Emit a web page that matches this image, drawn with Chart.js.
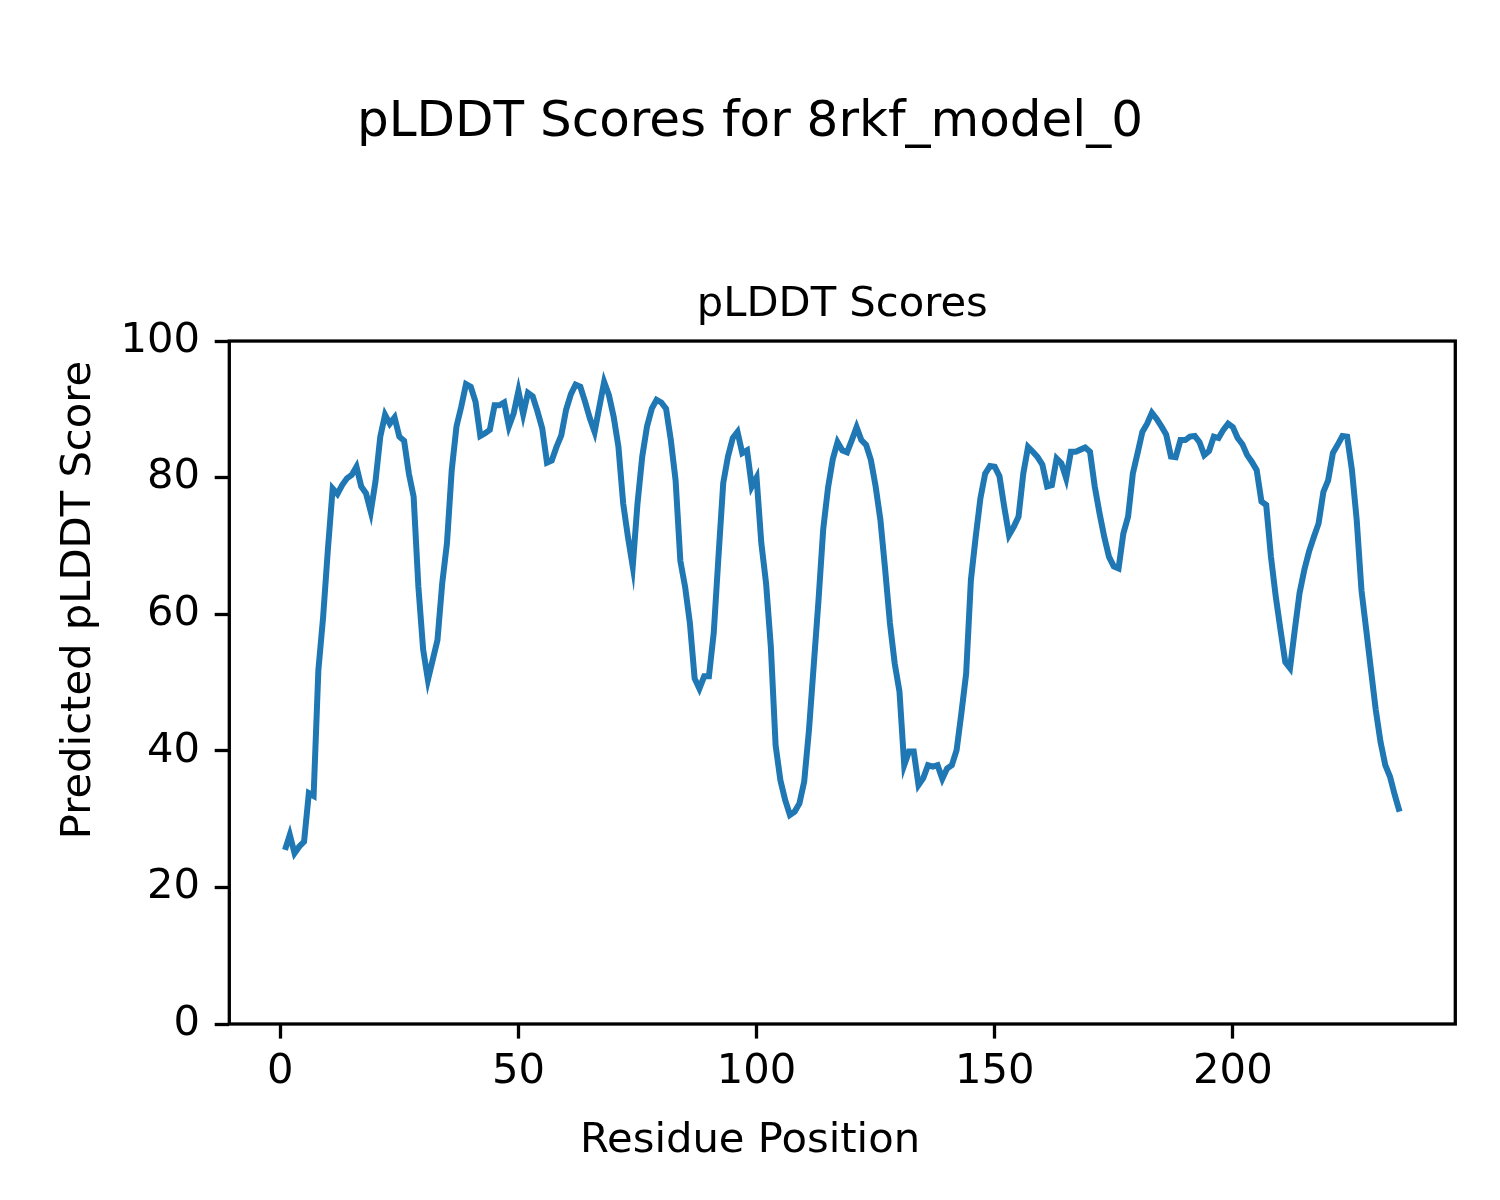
<!DOCTYPE html>
<html>
<head>
<meta charset="utf-8">
<title>pLDDT Scores for 8rkf_model_0</title>
<script src="https://cdn.jsdelivr.net/npm/chart.js@4.4.1/dist/chart.umd.min.js"></script>
<style>
    body { margin: 0; background: #ffffff; }
    #plddtChart { display: block; }
</style>
</head>
<body>
<canvas id="plddtChart" width="1500" height="1200"></canvas>
<script>
// pLDDT per residue (residues 1..235)
const scores = [
    25.5, 27.7, 25.0, 26.0, 26.7, 33.8, 33.4, 51.8, 59.6, 69.5,
    78.4, 77.6, 78.9, 79.9, 80.4, 81.6, 78.7, 77.7, 75.0, 79.5,
    86.0, 89.2, 87.9, 88.8, 86.0, 85.4, 80.6, 77.2, 64.0, 54.8,
    50.4, 53.3, 56.2, 64.5, 70.4, 81.1, 87.5, 90.4, 93.7, 93.3,
    91.1, 86.1, 86.5, 87.0, 90.6, 90.6, 91.0, 87.5, 89.4, 92.7,
    89.3, 92.4, 91.9, 89.7, 87.2, 82.2, 82.5, 84.5, 86.2, 89.9,
    92.2, 93.6, 93.3, 91.1, 88.7, 86.7, 90.4, 94.0, 92.1, 88.9,
    84.5, 76.2, 71.3, 67.0, 76.2, 83.1, 87.5, 90.1, 91.4, 91.0,
    90.1, 85.5, 79.6, 67.8, 64.0, 58.7, 50.6, 49.1, 50.9, 50.9,
    57.2, 68.4, 79.2, 83.1, 85.8, 86.7, 83.6, 84.0, 78.7, 80.0,
    70.4, 64.5, 55.2, 40.8, 35.7, 32.8, 30.6, 31.1, 32.3, 35.5,
    43.0, 52.5, 62.0, 72.5, 78.5, 82.7, 85.2, 84.0, 83.7, 85.5,
    87.4, 85.5, 84.8, 82.6, 78.7, 73.8, 66.5, 58.7, 52.8, 48.7,
    37.9, 39.9, 39.9, 35.0, 36.0, 37.9, 37.7, 37.9, 35.9, 37.4,
    37.9, 40.1, 45.5, 51.3, 65.0, 71.3, 77.0, 80.6, 81.7, 81.6,
    80.2, 75.7, 71.6, 72.8, 74.3, 80.6, 84.5, 83.8, 83.0, 81.9,
    78.7, 78.9, 82.8, 82.1, 79.9, 83.8, 83.8, 84.1, 84.4, 83.8,
    78.7, 74.8, 71.3, 68.4, 67.0, 66.7, 71.8, 74.3, 80.6, 83.6,
    86.7, 87.9, 89.5, 88.6, 87.5, 86.3, 83.1, 83.0, 85.5, 85.5,
    86.0, 86.1, 85.2, 83.3, 83.9, 86.0, 85.8, 87.0, 87.9, 87.4,
    85.8, 84.9, 83.3, 82.3, 81.1, 76.5, 76.0, 68.4, 62.6, 57.7,
    53.0, 52.1, 57.7, 63.1, 66.5, 69.2, 71.3, 73.3, 77.9, 79.6,
    83.6, 84.8, 86.1, 86.0, 81.1, 73.8, 63.5, 57.7, 51.8, 46.0,
    41.3, 37.9, 36.2, 33.5, 31.1
];
const residues = scores.map((_, i) => i + 1);

const xTicks = [0, 50, 100, 150, 200];
const yTicks = [0, 20, 40, 60, 80, 100];

const FONT = "'DejaVu Sans', 'Liberation Sans', sans-serif";
const SMALL = 41.7;   // 10pt at 300 dpi
const LARGE = 50;     // 12pt at 300 dpi

// figure-level texts (centred on the whole figure, like suptitle/supxlabel/supylabel)
// plus the top/right spines
const figureDecor = {
    id: 'figureDecor',
    afterDraw(chart) {
        const a = chart.chartArea;
        const ctx = chart.ctx;
        const w = chart.width, h = chart.height;
        ctx.save();
        ctx.strokeStyle = '#000';
        ctx.lineWidth = 3.3;
        ctx.strokeRect(a.left, a.top, a.right - a.left, a.bottom - a.top);

        ctx.fillStyle = '#000';
        ctx.textAlign = 'center';
        ctx.textBaseline = 'middle';
        ctx.font = LARGE + 'px ' + FONT;
        ctx.fillText('pLDDT Scores for 8rkf_model_0', w / 2, 123);

        ctx.font = SMALL + 'px ' + FONT;
        ctx.fillText('Residue Position', w / 2, 1141);

        ctx.translate(79, h / 2);
        ctx.rotate(-Math.PI / 2);
        ctx.fillText('Predicted pLDDT Score', 0, 0);
        ctx.restore();
    }
};

const ctx = document.getElementById('plddtChart');
const chart = new Chart(ctx, {
    type: 'line',
    data: {
        datasets: [{
            label: 'pLDDT',
            data: residues.map((r, i) => ({ x: r, y: scores[i] })),
            borderColor: '#1f77b4',
            borderWidth: 6,
            pointRadius: 0,
            tension: 0,
            fill: false
        }]
    },
    options: {
        responsive: false,
        animation: false,
        layout: { padding: { left: 0, right: 44.7, top: 0, bottom: 0 } },
        plugins: {
            legend: { display: false },
            tooltip: { enabled: false },
            title: { display: false },
            subtitle: {
                display: true,
                text: 'pLDDT Scores',
                fullSize: false,
                color: '#000',
                font: { family: FONT, size: SMALL, weight: 'normal' },
                padding: { top: 280, bottom: 11 }
            }
        },
        scales: {
            x: {
                type: 'linear',
                min: -10.7,
                max: 246.7,
                afterFit: (scale) => { scale.height = 176; },
                afterBuildTicks: (scale) => { scale.ticks = xTicks.map(v => ({ value: v })); },
                border: { display: false },
                grid: { drawOnChartArea: false, drawTicks: true, tickLength: 14.6, tickWidth: 3.3, tickColor: '#000' },
                ticks: { color: '#000', padding: 9, maxRotation: 0, font: { family: FONT, size: SMALL } }
            },
            y: {
                type: 'linear',
                min: 0,
                max: 100,
                afterFit: (scale) => { scale.width = 229.3; },
                afterBuildTicks: (scale) => { scale.ticks = yTicks.map(v => ({ value: v })); },
                border: { display: false },
                grid: { drawOnChartArea: false, drawTicks: true, tickLength: 14.6, tickWidth: 3.3, tickColor: '#000' },
                ticks: { color: '#000', padding: 14.6, font: { family: FONT, size: SMALL } }
            }
        }
    },
    plugins: [figureDecor]
});
</script>
</body>
</html>
